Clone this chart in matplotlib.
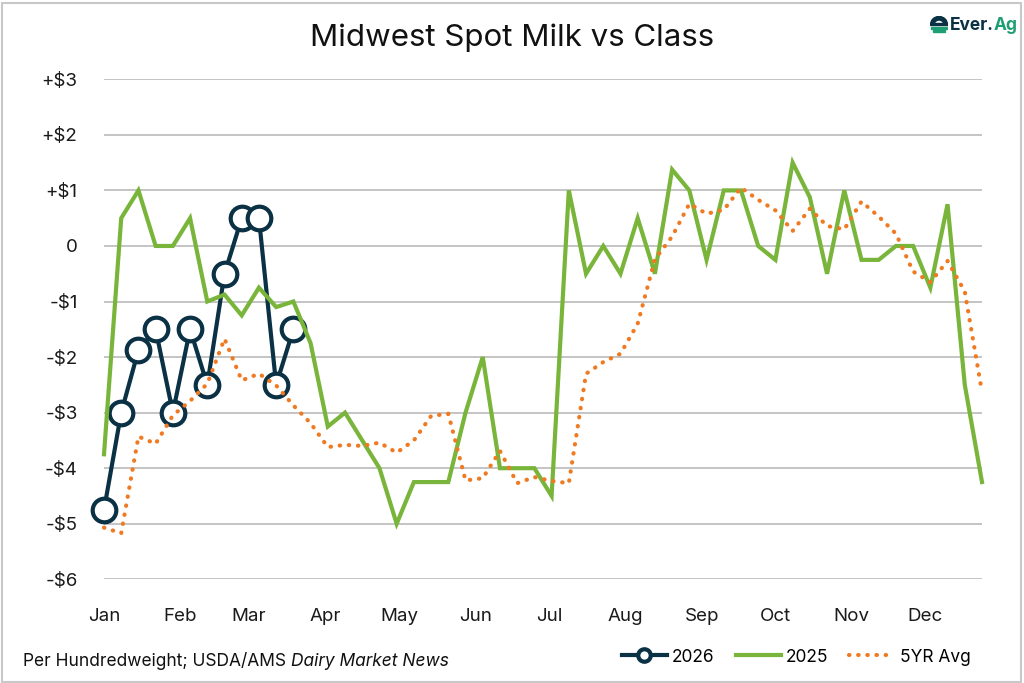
import numpy as np
import matplotlib
matplotlib.use("Agg")
import matplotlib.pyplot as plt
from matplotlib.patches import Rectangle, Wedge
from matplotlib.lines import Line2D

plt.rcParams['font.family'] = ['Inter', 'DejaVu Sans']

# ---- data ----
months = ["Jan", "Feb", "Mar", "Apr", "May", "Jun", "Jul", "Aug", "Sep", "Oct", "Nov", "Dec"]
month_days = [31, 28, 31, 30, 31, 30, 31, 31, 30, 31, 30, 31]
y_ticks = [3, 2, 1, 0, -1, -2, -3, -4, -5, -6]
y_tick_labels = ["+$3", "+$2", "+$1", "0", "-$1", "-$2", "-$3", "-$4", "-$5", "-$6"]

s2026 = [-4.75, -3.0, -1.875, -1.5, -3.0, -1.5, -2.5, -0.5, 0.5, 0.5, -2.5, -1.5]

s2025 = [-3.75, 0.5, 1.0, 0.0, 0.0, 0.5, -1.0, -0.875, -1.25, -0.75, -1.1, -1.0,
         -1.75, -3.25, -3.0, -3.5, -4.0, -5.0, -4.25, -4.25, -4.25, -3.0, -2.0, -4.0,
         -4.0, -4.0, -4.5, 1.0, -0.5, 0.0, -0.5, 0.5, -0.5, 1.375, 1.0, -0.25,
         1.0, 1.0, 0.0, -0.25, 1.5, 0.875, -0.5, 1.0, -0.25, -0.25, 0.0, 0.0,
         -0.75, 0.75, -2.5, -4.25]

avg5 = [-5.07, -5.17, -3.43, -3.56, -3.05, -2.79, -2.48, -1.67, -2.42, -2.30, -2.51, -2.87,
        -3.19, -3.62, -3.58, -3.60, -3.54, -3.72, -3.50, -3.06, -3.02, -4.22, -4.18, -3.69,
        -4.27, -4.16, -4.23, -4.27, -2.30, -2.09, -1.94, -1.40, -0.24, 0.17, 0.76, 0.58,
        0.65, 1.05, 0.83, 0.64, 0.27, 0.67, 0.36, 0.30, 0.80, 0.53, 0.22, -0.46,
        -0.65, -0.27, -0.82, -2.63]

week_days = 7
x2026 = np.arange(len(s2026)) * week_days
x2025 = np.arange(len(s2025)) * week_days
xavg = np.arange(len(avg5)) * week_days
month_starts = np.concatenate([[0], np.cumsum(month_days)[:-1]])

NAVY = "#0B3145"
GREEN = "#79B53A"
ORANGE = "#EF7A22"
GRID = "#C4C4C4"

fig = plt.figure(figsize=(10.24, 6.83), dpi=100)
ax = fig.add_axes([104 / 1024, 1 - 579.3 / 683, (982 - 104) / 1024, (579.3 - 79.3) / 683])

ax.plot(x2026, s2026, color=NAVY, lw=3, marker="o", ms=17, mfc="white", mec=NAVY,
        mew=3, zorder=3, clip_on=False)
ax.plot(x2025, s2025, color=GREEN, lw=3, zorder=4, clip_on=False, solid_joinstyle="miter")
ax.plot(xavg, avg5, color=ORANGE, lw=3, linestyle=(0, (0.1, 2.1)), dash_capstyle="round",
        zorder=5, clip_on=False)

ax.set_xlim(0, (len(s2025) - 1) * week_days)
ax.set_ylim(-6, 3)
ax.set_yticks(y_ticks)
ax.set_yticklabels(y_tick_labels)
ax.set_xticks(month_starts)
ax.set_xticklabels(months)
ax.tick_params(axis="both", length=0, labelsize=13.5, colors="#1a1a1a")
ax.tick_params(axis="y", pad=19)
ax.tick_params(axis="x", pad=21)
ax.grid(axis="y", color=GRID, lw=1.4)
ax.set_axisbelow(True)
for s in ax.spines.values():
    s.set_visible(False)

# title
fig.text(0.5, 1 - 38 / 683, "Midwest Spot Milk vs Class", ha="center", va="center",
         fontsize=22.5, color="#111111")

# footer
t1 = fig.text(23 / 1024, 1 - 661 / 683, "Per Hundredweight; USDA/AMS ", ha="left",
              va="center", fontsize=12.5, color="#111111")
fig.canvas.draw()
bb = t1.get_window_extent(fig.canvas.get_renderer())
fig.text(bb.x1 / 1024, 1 - 661 / 683, "Dairy Market News", ha="left", va="center",
         fontsize=12.5, style="italic", color="#111111")

# legend
handles = [
    Line2D([], [], color=NAVY, lw=3, marker="o", ms=9, mfc="white", mec=NAVY, mew=3),
    Line2D([], [], color=GREEN, lw=3),
    Line2D([], [], color=ORANGE, lw=3, linestyle=(0, (0.1, 2.1)), dash_capstyle="round"),
]
fig.legend(handles, ["2026", "2025", "5YR Avg"], loc="center right",
           bbox_to_anchor=(986 / 1024, 1 - 657 / 683), ncol=3, frameon=False,
           fontsize=12.5, handlelength=2.6, handletextpad=0.3, columnspacing=1.2)

# logo
t_ev = fig.text(950 / 1024, 1 - 25 / 683, "Ever.", ha="left", va="center", fontsize=12.5,
                fontweight="bold", color=NAVY)
fig.canvas.draw()
bb2 = t_ev.get_window_extent(fig.canvas.get_renderer())
fig.text(bb2.x1 / 1024, 1 - 25 / 683, "Ag", ha="left", va="center", fontsize=12.5,
         fontweight="bold", color="#1E9E73")
logo_ax = fig.add_axes([930 / 1024, 1 - 34 / 683, 18 / 1024, 18 / 683])
logo_ax.set_xlim(-1, 1)
logo_ax.set_ylim(-1, 1)
logo_ax.axis("off")
logo_ax.add_patch(Wedge((0, 0), 0.95, 0, 180, width=0.4, color=NAVY))
logo_ax.add_patch(Rectangle((-0.95, -0.05), 1.9, 0.22, color=NAVY))
logo_ax.add_patch(Rectangle((-0.9, -0.42), 1.8, 0.22, color="#1E9E73"))
logo_ax.add_patch(Rectangle((-0.7, -0.78), 1.4, 0.22, color="#1E9E73"))

# border
fig.add_artist(Rectangle((1.5 / 1024, 1.5 / 683), 1019 / 1024, 679 / 683,
                         transform=fig.transFigure, fill=False, edgecolor="#C8C8C8", lw=1.5))

fig.savefig("out.png", dpi=100)
